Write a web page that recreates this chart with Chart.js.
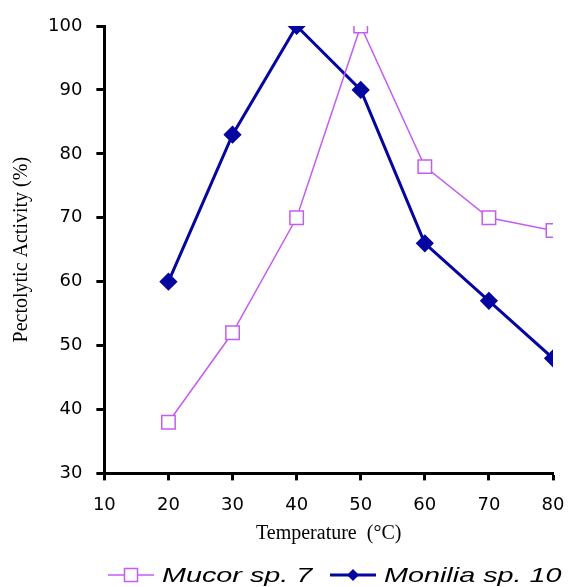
<!DOCTYPE html>
<html>
<head>
<meta charset="utf-8">
<script src="https://cdn.jsdelivr.net/npm/chart.js@4.4.0/dist/chart.umd.min.js"></script>
<style>
  html, body { margin: 0; padding: 0; background: #fff; }
  #wrap { width: 569px; height: 587px; position: relative; }
</style>
</head>
<body>
<div id="wrap"><canvas id="chart"></canvas></div>
<script>
const temperatures = [20, 30, 40, 50, 60, 70, 80];
const mucorValues = [38, 52, 70, 100, 78, 70, 68];
const moniliaValues = [60, 83, 100, 90, 66, 57, 48];
const seriesNames = ['Mucor sp. 7', 'Monilia sp. 10'];
const xTitle = 'Temperature  (\u00B0C)';
const yTitle = 'Pectolytic Activity (%)';

const purple = '#c55cf2';
const navy = '#0505a0';

const toPoints = vals => temperatures.map((t, i) => ({ x: t, y: vals[i] }));

// legend drawn at the bottom: line + marker + italic label (text a bit stretched, like the original)
const bottomLegend = {
  id: 'bottomLegend',
  afterDraw(chart) {
    const ctx = chart.ctx;
    const y = 575;
    const items = [
      { x: 108, color: purple, style: 'rect', text: seriesNames[0] },
      { x: 330, color: navy, style: 'rectRot', text: seriesNames[1] }
    ];
    ctx.save();
    items.forEach((it, i) => {
      ctx.strokeStyle = it.color;
      ctx.lineWidth = i === 0 ? 1.5 : 3;
      ctx.beginPath();
      ctx.moveTo(it.x, y);
      ctx.lineTo(it.x + 46, y);
      ctx.stroke();
      const cx = it.x + 23;
      if (it.style === 'rect') {
        ctx.fillStyle = '#fff';
        ctx.fillRect(cx - 6.5, y - 6.5, 13, 13);
        ctx.lineWidth = 1.5;
        ctx.strokeRect(cx - 6.5, y - 6.5, 13, 13);
      } else {
        ctx.fillStyle = it.color;
        ctx.beginPath();
        ctx.moveTo(cx, y - 6);
        ctx.lineTo(cx + 6, y);
        ctx.lineTo(cx, y + 6);
        ctx.lineTo(cx - 6, y);
        ctx.closePath();
        ctx.fill();
      }
      ctx.save();
      ctx.translate(it.x + 54, y + 1);
      ctx.scale(1.37, 1);
      ctx.fillStyle = '#000';
      ctx.font = 'italic 21px "Liberation Sans", Arial, sans-serif';
      ctx.textBaseline = 'middle';
      ctx.fillText(it.text, 0, 0);
      ctx.restore();
    });
    ctx.restore();
  }
};

const tickFont = { family: '"DejaVu Sans", sans-serif', size: 18 };
const titleFont = { family: '"Liberation Serif", "Times New Roman", serif', size: 20 };

new Chart(document.getElementById('chart'), {
  type: 'line',
  data: {
    datasets: [
      {
        label: seriesNames[0],
        data: toPoints(mucorValues),
        borderColor: purple,
        borderWidth: 1.5,
        pointStyle: 'rect',
        pointRadius: 9.5,
        pointBackgroundColor: '#fff',
        pointBorderColor: purple,
        pointBorderWidth: 1.5,
        tension: 0
      },
      {
        label: seriesNames[1],
        data: toPoints(moniliaValues),
        borderColor: navy,
        borderWidth: 3,
        pointStyle: 'rectRot',
        pointRadius: 7,
        pointBackgroundColor: navy,
        pointBorderColor: navy,
        tension: 0
      }
    ]
  },
  options: {
    responsive: true,
    maintainAspectRatio: false,
    animation: false,
    layout: { padding: { left: 10, right: 16, top: 26, bottom: 41 } },
    plugins: {
      legend: { display: false },
      tooltip: { enabled: false }
    },
    scales: {
      x: {
        type: 'linear',
        min: 10,
        max: 80,
        // let the "80" label hang into the layout padding
        afterFit: scale => { scale.paddingRight = 0; },
        ticks: { stepSize: 10, color: '#000', padding: 14, font: tickFont },
        grid: { drawOnChartArea: false, color: '#000', tickLength: 7, tickWidth: 3 },
        border: { color: '#000', width: 3 },
        title: {
          display: true,
          text: xTitle,
          color: '#000',
          padding: { top: -8, bottom: 0 },
          font: titleFont
        }
      },
      y: {
        min: 30,
        max: 100,
        ticks: { stepSize: 10, color: '#000', padding: 14, font: tickFont },
        grid: { drawOnChartArea: false, color: '#000', tickLength: 8, tickWidth: 3 },
        border: { color: '#000', width: 3 },
        title: {
          display: true,
          text: yTitle,
          color: '#000',
          padding: { top: 0, bottom: 0 },
          font: titleFont
        }
      }
    }
  },
  plugins: [bottomLegend]
});
</script>
</body>
</html>
